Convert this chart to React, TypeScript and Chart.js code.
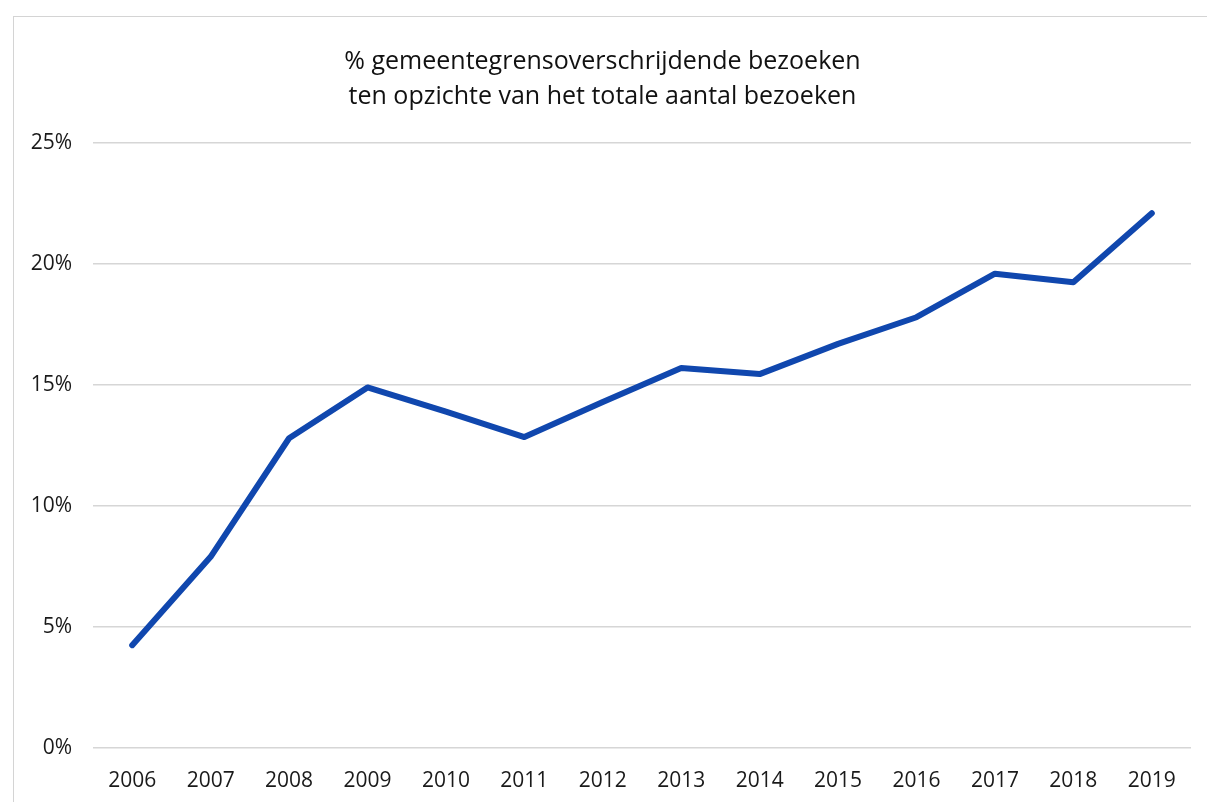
import React, { useEffect, useRef } from "react";
import { Chart, registerables } from "chart.js";

Chart.register(...registerables);

const years = ["2006", "2007", "2008", "2009", "2010", "2011", "2012", "2013", "2014", "2015", "2016", "2017", "2018", "2019"];
const sharePct = [4.25, 7.9, 12.8, 14.9, 13.9, 12.85, 14.3, 15.7, 15.45, 16.7, 17.8, 19.6, 19.25, 22.1];
const titleLines = ["% gemeentegrensoverschrijdende bezoeken", "ten opzichte van het totale aantal bezoeken"];

const FONT = "'Open Sans', 'Noto Sans', sans-serif";

export default function App() {
  const ref = useRef<HTMLCanvasElement | null>(null);

  useEffect(() => {
    if (!ref.current) return;
    const chart = new Chart(ref.current, {
      type: "line",
      data: {
        labels: years,
        datasets: [
          {
            data: sharePct,
            borderColor: "#1047ae",
            borderWidth: 6,
            borderJoinStyle: "round",
            borderCapStyle: "round",
            pointRadius: 0,
            tension: 0,
            fill: false,
          },
        ],
      },
      options: {
        animation: false,
        responsive: false,
        maintainAspectRatio: false,
        layout: { padding: { top: 27.5, right: 33, bottom: 0, left: 0 } },
        plugins: {
          legend: { display: false },
          tooltip: { enabled: false },
          title: {
            display: true,
            text: titleLines,
            color: "#111111",
            font: { family: FONT, size: 25, weight: "normal", lineHeight: 1.4 },
            padding: { top: 0, bottom: 28.5 },
          },
        },
        scales: {
          x: {
            offset: true,
            grid: { display: false, drawTicks: false },
            border: { display: false },
            ticks: {
              color: "#1a1a1a",
              font: { family: FONT, size: 21 },
              padding: 20,
              maxRotation: 0,
              autoSkip: false,
            },
            afterFit: (s: any) => {
              s.height = 69;
            },
          },
          y: {
            min: 0,
            max: 25,
            grid: { color: "#d6d6d6", lineWidth: 1.5, drawTicks: false },
            border: { display: false },
            ticks: {
              stepSize: 5,
              color: "#1a1a1a",
              font: { family: FONT, size: 21 },
              padding: 21,
              callback: (v: any) => `${v}%`,
            },
            afterFit: (s: any) => {
              s.width = 79;
            },
          },
        },
      },
    });
    return () => chart.destroy();
  }, []);

  return (
    <div style={{ position: "fixed", inset: 0, overflow: "hidden", background: "#fff" }}>
      <div
        style={{
          position: "absolute",
          left: 13,
          top: 16,
          width: 1210,
          height: 800,
          border: "1px solid #d4d4d4",
          background: "#fff",
        }}
      >
        <canvas ref={ref} width={1210} height={800} style={{ display: "block", width: 1210, height: 800 }} />
      </div>
    </div>
  );
}
